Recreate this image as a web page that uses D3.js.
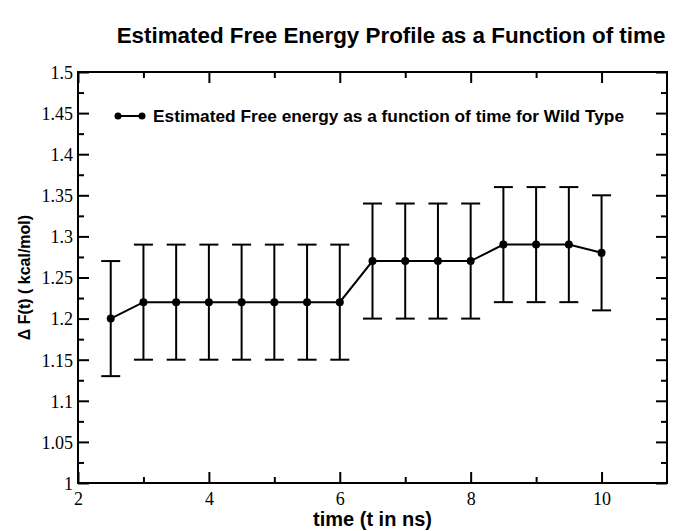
<!DOCTYPE html>
<html><head><meta charset="utf-8">
<script src="https://cdn.jsdelivr.net/npm/d3@7"></script>
<style>body{margin:0;background:#fff}</style>
</head><body>
<svg id="c" width="678" height="531"></svg>
<script>
const times = [2.5,3,3.5,4,4.5,5,5.5,6,6.5,7,7.5,8,8.5,9,9.5,10];
const dF    = [1.20,1.22,1.22,1.22,1.22,1.22,1.22,1.22,1.27,1.27,1.27,1.27,1.29,1.29,1.29,1.28];
const errs  = [0.07,0.07,0.07,0.07,0.07,0.07,0.07,0.07,0.07,0.07,0.07,0.07,0.07,0.07,0.07,0.07];
const xMajor = [2,4,6,8,10];
const xMinor = [3,5,7,9];
const yMajor = [1,1.05,1.1,1.15,1.2,1.25,1.3,1.35,1.4,1.45,1.5];
const yMinor = [1.025,1.075,1.125,1.175,1.225,1.275,1.325,1.375,1.425,1.475];
const title = "Estimated Free Energy Profile as a Function of time";
const xTitle = "time (t in ns)";
const yTitle = "\u0394 F(t) ( kcal/mol)";
const legendLabel = "Estimated Free energy as a function of time for Wild Type";

const L=78, R=667, T=72, B=483;
const svg = d3.select("#c");
const x = d3.scaleLinear().domain([2,11]).range([L,R]);
const y = d3.scaleLinear().domain([1,1.5]).range([B,T]);
const MAJ=11, MIN=6;
const fmtY = d => d3.format("")(+d.toFixed(3));

function ax(gen, tr, vals, size, fmt){
  const g = svg.append("g").attr("transform", tr)
    .call(gen.tickValues(vals).tickSize(size).tickPadding(0).tickFormat(fmt));
  g.select(".domain").remove();
  g.selectAll(".tick line").attr("stroke","#000").attr("stroke-width",2);
  return g;
}
// bottom
const gb = ax(d3.axisBottom(x), `translate(0,${B})`, xMajor, -MAJ, d=>d);
gb.selectAll("text").attr("y",22).attr("dy",0).attr("font-family","Liberation Serif").attr("font-size",18).attr("fill","#000");
ax(d3.axisBottom(x), `translate(0,${B})`, xMinor, -MIN, "");
// top
ax(d3.axisTop(x), `translate(0,${T})`, xMajor, -MAJ, "");
ax(d3.axisTop(x), `translate(0,${T})`, xMinor, -MIN, "");
// left
const gl = ax(d3.axisLeft(y), `translate(${L},0)`, yMajor, -MAJ, fmtY);
gl.selectAll("text").attr("x",-5).attr("dy","0.35em").attr("font-family","Liberation Serif").attr("font-size",18).attr("fill","#000");
ax(d3.axisLeft(y), `translate(${L},0)`, yMinor, -MIN, "");
// right
ax(d3.axisRight(y), `translate(${R},0)`, yMajor, -MAJ, "");
ax(d3.axisRight(y), `translate(${R},0)`, yMinor, -MIN, "");

svg.append("rect").attr("x",L).attr("y",T).attr("width",R-L).attr("height",B-T)
  .attr("fill","none").attr("stroke","#000").attr("stroke-width",2);

// error bars
const eb = svg.append("g").attr("stroke","#000").attr("stroke-width",2);
times.forEach((t,i)=>{
  const cx=x(t), y1=y(dF[i]-errs[i]), y2=y(dF[i]+errs[i]), hw=9.5;
  eb.append("line").attr("x1",cx).attr("x2",cx).attr("y1",y1).attr("y2",y2);
  eb.append("line").attr("x1",cx-hw).attr("x2",cx+hw).attr("y1",y1).attr("y2",y1);
  eb.append("line").attr("x1",cx-hw).attr("x2",cx+hw).attr("y1",y2).attr("y2",y2);
});
// line
svg.append("path").datum(times.map((t,i)=>[t,dF[i]]))
  .attr("d", d3.line().x(d=>x(d[0])).y(d=>y(d[1])))
  .attr("fill","none").attr("stroke","#000").attr("stroke-width",2);
svg.append("g").selectAll("circle").data(times).join("circle")
  .attr("cx",d=>x(d)).attr("cy",(d,i)=>y(dF[i])).attr("r",4).attr("fill","#000");

// legend
const lg = svg.append("g");
lg.append("line").attr("x1",118).attr("x2",142).attr("y1",116).attr("y2",116).attr("stroke","#000").attr("stroke-width",2);
lg.append("circle").attr("cx",118).attr("cy",116).attr("r",3.5);
lg.append("circle").attr("cx",142).attr("cy",116).attr("r",3.5);
lg.append("text").attr("x",153).attr("y",122).text(legendLabel)
  .attr("font-family","Liberation Sans").attr("font-weight","bold").attr("font-size",17.3);

// titles
svg.append("text").attr("x",391).attr("y",43).attr("text-anchor","middle").text(title)
  .attr("font-family","Liberation Sans").attr("font-weight","bold").attr("font-size",22.4);
svg.append("text").attr("x",(L+R)/2).attr("y",526).attr("text-anchor","middle").text(xTitle)
  .attr("font-family","Liberation Sans").attr("font-weight","bold").attr("font-size",20);
svg.append("text").attr("transform",`translate(30,${(T+B)/2}) rotate(-90)`).attr("text-anchor","middle").text(yTitle)
  .attr("font-family","Liberation Sans").attr("font-weight","bold").attr("font-size",16);
</script>
</body></html>
